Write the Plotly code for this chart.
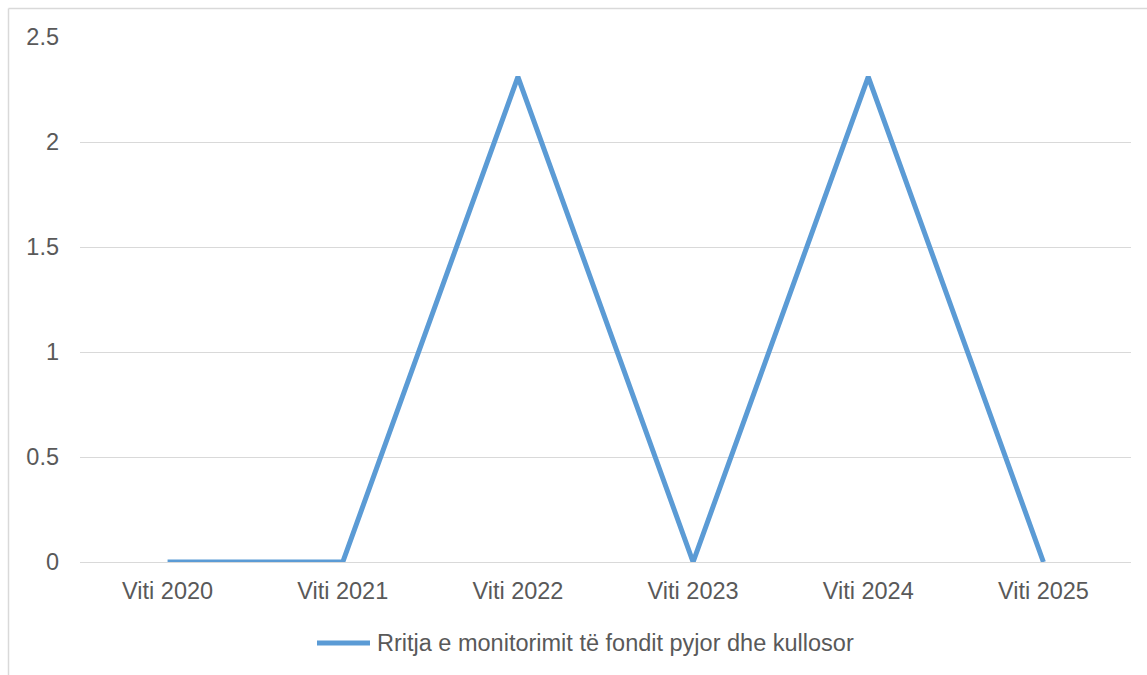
import plotly.graph_objects as go

categories = ["Viti 2020", "Viti 2021", "Viti 2022", "Viti 2023", "Viti 2024", "Viti 2025"]
values = [0, 0, 2.31, 0, 2.31, 0]
series_name = "Rritja e monitorimit të fondit pyjor dhe kullosor"
y_ticks = [0, 0.5, 1, 1.5, 2, 2.5]
y_tick_labels = ["0", "0.5", "1", "1.5", "2", "2.5"]

W, H = 1147, 675
L, T = 80, 37
plot_right, plot_bottom = 1131, 562
R, B = W - plot_right, H - plot_bottom
pw, ph = plot_right - L, plot_bottom - T

def px(x):
    return (x - L) / pw

def py(y):
    return (plot_bottom - y) / ph

LINE_COLOR = "#5B9BD5"
BORDER = "#D9D9D9"
font = dict(family="Liberation Sans, Arial, sans-serif", size=23.5, color="#595959")

fig = go.Figure()
fig.add_trace(go.Scatter(
    x=categories, y=values, mode="lines", name=series_name,
    line=dict(color=LINE_COLOR, width=5), showlegend=False,
))

fig.update_layout(
    width=W, height=H,
    margin=dict(l=L, r=R, t=T, b=B, autoexpand=False),
    paper_bgcolor="white", plot_bgcolor="white",
    font=font,
    showlegend=False,
    xaxis=dict(type="category", range=[-0.5, len(categories) - 0.5],
               showgrid=False, zeroline=False, showline=False, ticks="",
               tickfont=font, ticklabelstandoff=12, fixedrange=True),
    yaxis=dict(range=[0, 2.5], tickvals=y_ticks, ticktext=y_tick_labels,
               showgrid=True, gridcolor="#D9D9D9", gridwidth=1,
               zeroline=True, zerolinecolor="#D9D9D9", zerolinewidth=1,
               showline=False, ticks="", tickfont=font, ticklabelstandoff=20,
               fixedrange=True),
    shapes=[
        # chart-area border (left and top edges are visible)
        dict(type="line", xref="paper", yref="paper", layer="below",
             x0=px(8.5), x1=px(8.5), y0=py(675 + 10), y1=py(8.5),
             line=dict(color=BORDER, width=1.5)),
        dict(type="line", xref="paper", yref="paper", layer="below",
             x0=px(8.5), x1=px(1147 + 10), y0=py(8.5), y1=py(8.5),
             line=dict(color=BORDER, width=1.5)),
        # legend sample
        dict(type="line", xref="paper", yref="paper",
             x0=px(317), x1=px(370), y0=py(643), y1=py(643),
             line=dict(color=LINE_COLOR, width=5)),
    ],
    annotations=[
        dict(text=series_name, xref="paper", yref="paper",
             x=px(375), y=py(643), xanchor="left", yanchor="middle",
             showarrow=False, font=font),
    ],
)

fig.write_html(
    "out.html",
    config={"displayModeBar": False, "staticPlot": True},
    post_script="document.body.style.margin='0';document.body.style.overflow='hidden';",
)
